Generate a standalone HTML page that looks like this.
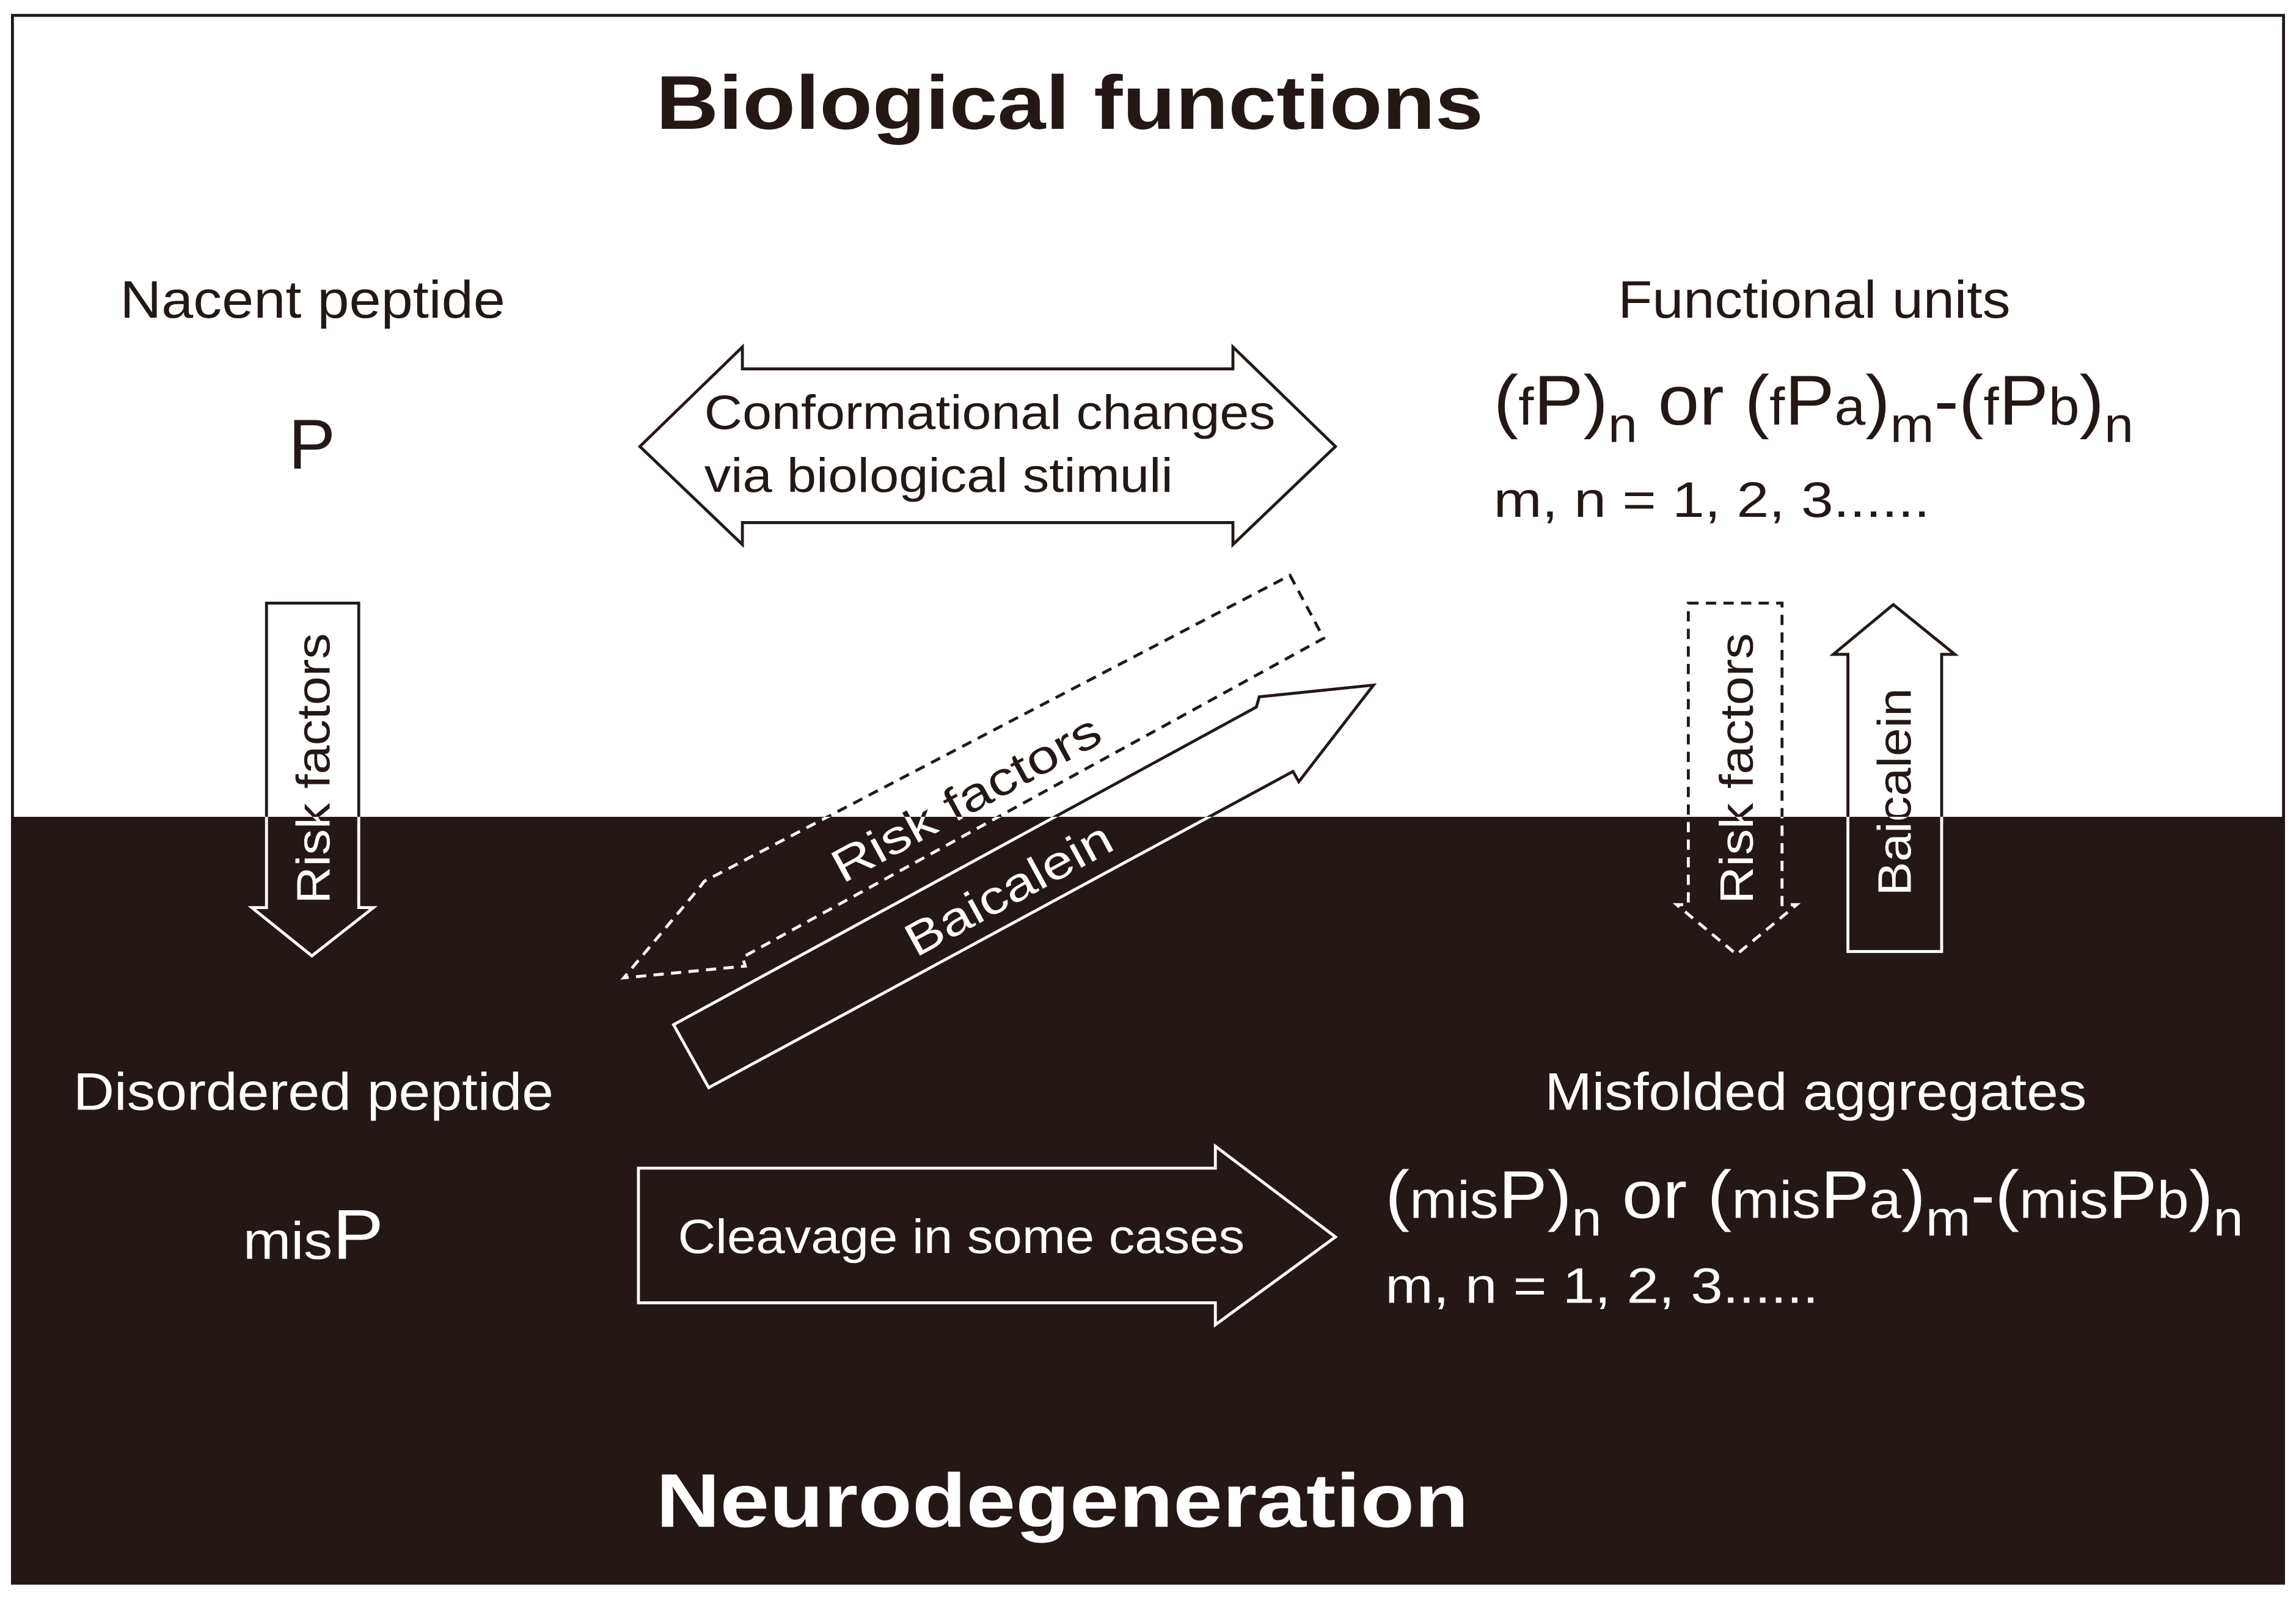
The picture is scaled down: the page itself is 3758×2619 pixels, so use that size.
<!DOCTYPE html>
<html><head><meta charset="utf-8"><style>
html,body{margin:0;padding:0;background:#fff;}
svg{display:block;}
text{font-family:"Liberation Sans",sans-serif;}
</style></head><body>
<svg width="3758" height="2619" viewBox="0 0 1568 1093" preserveAspectRatio="none" xmlns="http://www.w3.org/2000/svg" xmlns:xlink="http://www.w3.org/1999/xlink">
<defs>
<clipPath id="top"><rect x="0" y="0" width="1568" height="558"/></clipPath>
<clipPath id="bot"><rect x="0" y="558" width="1568" height="600"/></clipPath>
<g id="shared" fill="none" stroke="currentColor" stroke-width="2">
  <!-- left risk arrow -->
  <polygon points="182,412 245,412 245,620 255,620 213,653 172,620 182,620"/>
  <!-- right dashed risk -->
  <polygon points="1153,412 1217,412 1217,618 1227,618 1186,652 1145,618 1153,618" stroke-dasharray="7,5"/>
  <!-- right baicalein up -->
  <polygon points="1262,650 1326,650 1326,447 1335,447 1293,413 1252,447 1262,447"/>
  <!-- dashed diagonal -->
  <polygon points="881,393 904,436 507,654 509,660 426,668 478,606 481,602" stroke-dasharray="7,5"/>
  <!-- solid diagonal -->
  <polygon points="460,700 858,483 860,476 938,468 887,534 883,527 484,743"/>
  <g stroke="none" fill="currentColor" font-size="32">
    <text transform="translate(225,525) rotate(-90)" text-anchor="middle" textLength="185" lengthAdjust="spacingAndGlyphs">Risk factors</text>
    <text transform="translate(1197,525) rotate(-90)" text-anchor="middle" textLength="185" lengthAdjust="spacingAndGlyphs">Risk factors</text>
    <text transform="translate(1305,541) rotate(-90)" text-anchor="middle" textLength="142" lengthAdjust="spacingAndGlyphs">Baicalein</text>
    <text transform="translate(665,555) rotate(-28.6)" text-anchor="middle" textLength="204" lengthAdjust="spacingAndGlyphs">Risk factors</text>
    <text transform="translate(694,617) rotate(-28.6)" text-anchor="middle" textLength="156" lengthAdjust="spacingAndGlyphs">Baicalein</text>
  </g>
</g>
</defs>
<rect x="0" y="0" width="1568" height="1093" fill="#fff"/>
<rect x="8.5" y="10.5" width="1551" height="1071" fill="#fff" stroke="#231815" stroke-width="2"/>
<rect x="8" y="558" width="1552" height="524" fill="#231815"/>

<text x="448" y="88" font-size="52" font-weight="bold" fill="#231815" textLength="565" lengthAdjust="spacingAndGlyphs">Biological functions</text>
<text x="448" y="1043" font-size="52" font-weight="bold" fill="#fff" textLength="555" lengthAdjust="spacingAndGlyphs">Neurodegeneration</text>

<text x="82" y="217" font-size="36" fill="#231815" textLength="263" lengthAdjust="spacingAndGlyphs">Nacent peptide</text>
<text x="213" y="320" font-size="48" text-anchor="middle" fill="#231815">P</text>

<text x="1105" y="217" font-size="36" fill="#231815" textLength="268" lengthAdjust="spacingAndGlyphs">Functional units</text>
<text x="1020" y="290" font-size="48" fill="#231815" textLength="437" lengthAdjust="spacingAndGlyphs">(<tspan font-size="36">f</tspan>P)<tspan font-size="34" dy="12">n</tspan><tspan dy="-12"> or (</tspan><tspan font-size="36">f</tspan>P<tspan font-size="36">a</tspan>)<tspan font-size="34" dy="12">m</tspan><tspan dy="-12">-(</tspan><tspan font-size="36">f</tspan>P<tspan font-size="36">b</tspan>)<tspan font-size="34" dy="12">n</tspan></text>
<text x="1020" y="353" font-size="34" fill="#231815" textLength="298" lengthAdjust="spacingAndGlyphs">m, n = 1, 2, 3......</text>

<polygon points="437,305 507,237 507,252 842,252 842,237 912,305 842,372 842,357 507,357 507,372" fill="#fff" stroke="#231815" stroke-width="2"/>
<text x="481" y="293" font-size="33" fill="#231815" textLength="390" lengthAdjust="spacingAndGlyphs">Conformational changes</text>
<text x="481" y="336" font-size="33" fill="#231815" textLength="320" lengthAdjust="spacingAndGlyphs">via biological stimuli</text>

<text x="50" y="758" font-size="36" fill="#fff" textLength="328" lengthAdjust="spacingAndGlyphs">Disordered peptide</text>
<text x="166" y="860" font-size="48" fill="#fff" textLength="96" lengthAdjust="spacingAndGlyphs"><tspan font-size="36">mis</tspan>P</text>

<text x="1055" y="758" font-size="36" fill="#fff" textLength="370" lengthAdjust="spacingAndGlyphs">Misfolded aggregates</text>
<text x="946" y="832" font-size="46" fill="#fff" textLength="586" lengthAdjust="spacingAndGlyphs">(<tspan font-size="36">mis</tspan>P)<tspan font-size="34" dy="12">n</tspan><tspan dy="-12"> or (</tspan><tspan font-size="36">mis</tspan>P<tspan font-size="36">a</tspan>)<tspan font-size="34" dy="12">m</tspan><tspan dy="-12">-(</tspan><tspan font-size="36">mis</tspan>P<tspan font-size="36">b</tspan>)<tspan font-size="34" dy="12">n</tspan></text>
<text x="946" y="890" font-size="34" fill="#fff" textLength="296" lengthAdjust="spacingAndGlyphs">m, n = 1, 2, 3......</text>

<polygon points="436,798 830,798 830,783 912,845 830,905 830,890 436,890" fill="none" stroke="#fff" stroke-width="2"/>
<text x="463" y="856" font-size="33" fill="#fff" textLength="387" lengthAdjust="spacingAndGlyphs">Cleavage in some cases</text>

<use xlink:href="#shared" href="#shared" color="#231815" clip-path="url(#top)"/>
<use xlink:href="#shared" href="#shared" color="#ffffff" clip-path="url(#bot)"/>
</svg>
</body></html>
